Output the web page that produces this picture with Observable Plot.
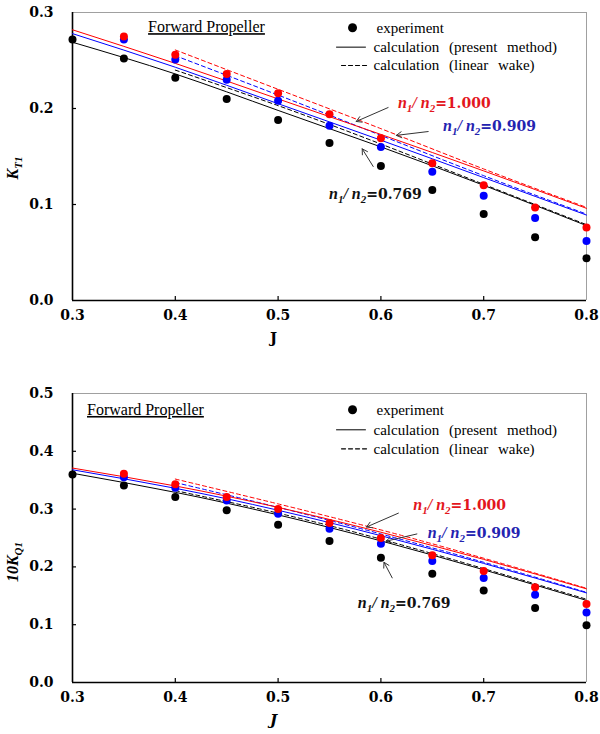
<!DOCTYPE html>
<html><head><meta charset="utf-8">
<script src="https://cdn.jsdelivr.net/npm/d3@7"></script>
<script src="https://cdn.jsdelivr.net/npm/@observablehq/plot@0.6"></script>
<style>
html,body{margin:0;padding:0;background:#fff;}
#wrap{width:600px;}
svg{display:block;}
</style></head><body><div id="wrap"></div>
<script>
// ---------- data ----------
const J = [0.30,0.35,0.40,0.45,0.50,0.55,0.60,0.65,0.70,0.75,0.80];
const calcJ = [0.3,0.4,0.5,0.6,0.7,0.8];
const wakeJ = [0.4,0.5,0.6,0.7,0.8];
const xTicks = [0.3,0.4,0.5,0.6,0.7,0.8];
const ktTicks = [0,0.1,0.2,0.3];
const kqTicks = [0,0.1,0.2,0.3,0.4,0.5];
const ratios = ["1.000","0.909","0.769"];
const seriesColors = ["#ff0000","#0000ff","#000000"];
const labelColors = ["#e3161d","#2323b0","#111111"];
const legendLabels = ["experiment","calculation\u00a0(present\u00a0method)","calculation\u00a0(linear\u00a0wake)"];
const titleText = "Forward Propeller";

// KT1 (top)
const ktExp1000 = [null,0.275,0.256,0.236,0.216,0.194,0.169,0.143,0.120,0.097,0.076];
const ktExp0909 = [null,0.272,0.251,0.230,0.208,0.182,0.160,0.134,0.109,0.086,0.062];
const ktExp0769 = [0.272,0.252,0.232,0.210,0.188,0.164,0.140,0.115,0.090,0.066,0.044];
const ktCalc1000 = [0.282,0.247,0.210,0.173,0.135,0.096];
const ktCalc0909 = [0.278,0.243,0.205,0.167,0.128,0.089];
const ktCalc0769 = [0.269,0.236,0.198,0.160,0.120,0.078];
const ktWake1000 = [0.261,0.220,0.179,0.137,0.097];
const ktWake0909 = [0.255,0.214,0.172,0.130,0.090];
const ktWake0769 = [0.240,0.203,0.163,0.121,0.079];

// 10KQ1 (bottom)
const kqExp1000 = [null,0.361,0.343,0.321,0.300,0.276,0.250,0.220,0.193,0.165,0.136];
const kqExp0909 = [null,0.355,0.337,0.315,0.292,0.266,0.240,0.210,0.181,0.152,0.121];
const kqExp0769 = [0.360,0.341,0.321,0.298,0.273,0.245,0.216,0.188,0.159,0.129,0.099];
const kqCalc1000 = [0.371,0.340,0.303,0.260,0.213,0.162];
const kqCalc0909 = [0.368,0.336,0.298,0.254,0.206,0.155];
const kqCalc0769 = [0.362,0.329,0.290,0.245,0.195,0.142];
const kqWake1000 = [0.352,0.309,0.264,0.215,0.163];
const kqWake0909 = [0.346,0.303,0.257,0.208,0.156];
const kqWake0769 = [0.332,0.293,0.248,0.197,0.144];

// annotation anchors (data coordinates)
const ktLabelPos = [[0.617,0.205],[0.661,0.181],[0.550,0.110]];
const ktArrows = [[0.607,0.201,0.576,0.1865],[0.646,0.176,0.615,0.172],[0.5925,0.1396,0.5818,0.158]];
const kqLabelPos = [[0.632,0.306],[0.646,0.258],[0.578,0.137]];
const kqArrows = [[0.617,0.293,0.586,0.269],[0.635,0.257,0.605,0.2445],[0.611,0.181,0.603,0.208]];
const ktLegend = {dot:[0.5724,0.2841], solid:[0.5568,0.585,0.2639], dash:[0.5617,0.587,0.2448], textX:[0.5957,0.5928]};
const kqLegend = {dot:[0.5724,0.4718], solid:[0.5568,0.585,0.4372], dash:[0.5617,0.587,0.4043], textX:[0.5957,0.5928]};
const ktTitle = [0.374,0.279];
const kqTitle = [0.3146,0.462];

// ---------- chart builder ----------
function build(cfg) {
  const {height, marginTop, marginBottom, yMax, yTicks, exp, calc, wake, labelPos, arrows, legend, title, yLabel, yLabelSub, yLabelCenter, xItalic} = cfg;
  const pts = (arr) => J.map((j,i)=>({J:j, v:arr[i]})).filter(d=>d.v!=null);
  const cl = (arr) => calcJ.map((j,i)=>({J:j, v:arr[i]}));
  const wl = (arr) => wakeJ.map((j,i)=>({J:j, v:arr[i]}));
  const plotH = height - marginTop - marginBottom;
  const tickY = 4 / plotH * yMax;
  const tickX = 4 / 514 * 0.5;
  const marks = [
    Plot.ruleY([yMax], {stroke:"#a0a0a0", strokeWidth:1}),
    Plot.ruleX([0.8], {stroke:"#a0a0a0", strokeWidth:1}),
    Plot.ruleY([0], {stroke:"#000", strokeWidth:1.6}),
    Plot.ruleX([0.3], {stroke:"#000", strokeWidth:1.6}),
    Plot.ruleX(xTicks.slice(1,-1), {x:d=>d, y1:0, y2:tickY, stroke:"#000", strokeWidth:1.2}),
    Plot.ruleY(yTicks.slice(1,-1), {y:d=>d, x1:0.3, x2:0.3+tickX, stroke:"#000", strokeWidth:1.2}),
    Plot.axisX({ticks:xTicks, tickSize:0, tickPadding:10, tickFormat:d=>d.toFixed(1), label:null}),
    Plot.axisY({ticks:yTicks, tickSize:0, tickPadding:19, tickFormat:d=>d.toFixed(1), label:null}),
  ];
  [2,1,0].forEach(k => {
    marks.push(Plot.line(wl(wake[k]), {x:"J", y:"v", stroke:seriesColors[k], strokeWidth:1, strokeDasharray:"4,3", curve:"natural"}));
    marks.push(Plot.line(cl(calc[k]), {x:"J", y:"v", stroke:seriesColors[k], strokeWidth:1, curve:"natural"}));
  });
  [2,1,0].forEach(k => {
    marks.push(Plot.dot(pts(exp[k]), {x:"J", y:"v", r:4, fill:seriesColors[k], stroke:"none"}));
  });
  marks.push(Plot.arrow(arrows, {x1:d=>d[0], y1:d=>d[1], x2:d=>d[2], y2:d=>d[3], stroke:"#333", strokeWidth:1, headLength:9}));
  marks.push(Plot.dot([legend.dot], {x:d=>d[0], y:d=>d[1], r:4.5, fill:"#000"}));
  marks.push(Plot.line([[legend.solid[0],legend.solid[2]],[legend.solid[1],legend.solid[2]]], {x:d=>d[0], y:d=>d[1], stroke:"#000", strokeWidth:1}));
  marks.push(Plot.line([[legend.dash[0],legend.dash[2]],[legend.dash[1],legend.dash[2]]], {x:d=>d[0], y:d=>d[1], stroke:"#000", strokeWidth:1.2, strokeDasharray:"4,3"}));
  marks.push(Plot.text([[legend.textX[0],legend.dot[1],legendLabels[0]],[legend.textX[1],legend.solid[2],legendLabels[1]],[legend.textX[1],legend.dash[2],legendLabels[2]]],
    {x:d=>d[0], y:d=>d[1], text:d=>d[2], textAnchor:"start", fontFamily:"'Liberation Serif', serif", fontSize:15, fontWeight:"normal", fill:"#000"}));

  const chart = Plot.plot({
    width:600, height, marginLeft:72, marginRight:14, marginTop, marginBottom,
    x:{domain:[0.3,0.8]}, y:{domain:[0,yMax]},
    style:{fontFamily:"'DejaVu Serif', serif", fontSize:"14px", fontWeight:"bold", background:"white", color:"#000"},
    marks
  });
  const svg = d3.select(chart);
  const xs = chart.scale("x"), ys = chart.scale("y");
  svg.selectAll("text").filter(function(){ return (this.textContent||"").startsWith("calculation"); }).style("word-spacing","6px");
  const g = svg.append("g").attr("text-anchor","start");
  g.append("text").attr("x", xs.apply(title[0])).attr("y", ys.apply(title[1]))
    .attr("text-anchor","start")
    .attr("font-family","'Liberation Serif', serif").attr("font-size",16).attr("font-weight","normal")
    .style("text-decoration","underline").attr("fill","#000").text(titleText);
  labelPos.forEach((p,k) => {
    const t = g.append("text").attr("x", xs.apply(p[0])).attr("y", ys.apply(p[1]) + 5)
      .attr("text-anchor","start")
      .attr("fill", labelColors[k]).attr("font-family","'Liberation Serif', serif")
      .attr("font-style","italic").attr("font-weight","bold").attr("font-size",16);
    t.append("tspan").text("n");
    t.append("tspan").attr("dy",4).attr("font-size",11).text("1");
    t.append("tspan").attr("dy",-4).text("/ n");
    t.append("tspan").attr("dy",4).attr("font-size",11).text("2");
    t.append("tspan").attr("dy",-4).attr("font-family","'DejaVu Serif', serif").attr("font-style","normal").attr("font-size",14).text("=" + ratios[k]);
  });
  g.append("text").attr("x", xs.apply(0.5) - 4).attr("y", height - marginBottom + 43).attr("text-anchor","middle")
    .attr("font-family","'DejaVu Serif', serif").attr("font-size",15).attr("font-weight","bold")
    .attr("font-style", xItalic ? "italic" : "normal").attr("fill","#000").text("J");
  const yl = g.append("text").attr("transform", `translate(${xs.apply(0.3) - 54},${yLabelCenter}) rotate(-90)`)
    .attr("text-anchor","middle").attr("font-family","'Liberation Serif', serif").attr("font-style","italic")
    .attr("font-weight","bold").attr("font-size",16).attr("fill","#000");
  yl.append("tspan").text(yLabel);
  yl.append("tspan").attr("dy",4).attr("font-size",11).text(yLabelSub);
  return chart;
}

const wrap = document.getElementById("wrap");
wrap.appendChild(build({
  height:355, marginTop:12, marginBottom:55, yMax:0.3, yTicks:ktTicks,
  exp:[ktExp1000,ktExp0909,ktExp0769], calc:[ktCalc1000,ktCalc0909,ktCalc0769], wake:[ktWake1000,ktWake0909,ktWake0769],
  labelPos:ktLabelPos, arrows:ktArrows, legend:ktLegend, title:ktTitle,
  yLabel:"K", yLabelSub:"T1", yLabelCenter:168, xItalic:false
}));
wrap.appendChild(build({
  height:379, marginTop:38, marginBottom:52, yMax:0.5, yTicks:kqTicks,
  exp:[kqExp1000,kqExp0909,kqExp0769], calc:[kqCalc1000,kqCalc0909,kqCalc0769], wake:[kqWake1000,kqWake0909,kqWake0769],
  labelPos:kqLabelPos, arrows:kqArrows, legend:kqLegend, title:kqTitle,
  yLabel:"10K", yLabelSub:"Q1", yLabelCenter:207, xItalic:true
}));
</script>
</body></html>
